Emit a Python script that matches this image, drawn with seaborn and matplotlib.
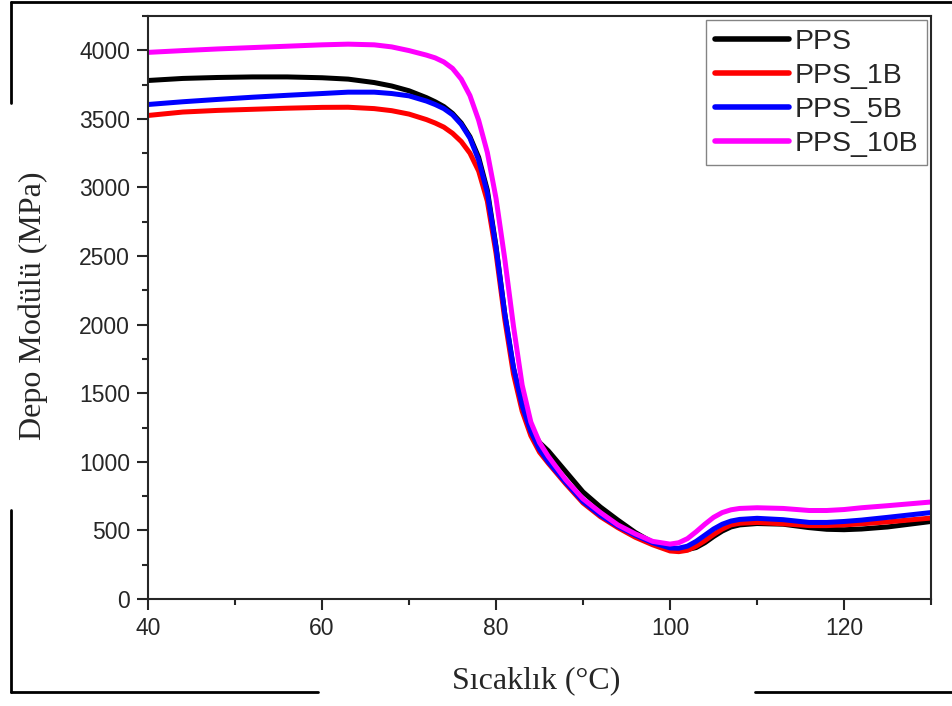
import seaborn as sns
sns.set_style('ticks')
import matplotlib.pyplot as plt
from matplotlib.ticker import MultipleLocator
from matplotlib.lines import Line2D
import pandas as pd

plt.rcParams['font.family'] = ['Liberation Sans', 'DejaVu Sans']

# temperature grid (°C)
temp = [40, 44, 48, 52, 56, 60, 63, 66, 68, 70, 72, 73, 74, 75, 76, 77, 78, 79, 80,
        81, 82, 83, 84, 85, 86, 88, 90, 92, 94, 96, 98, 100, 101, 102, 103, 104,
        105, 106, 107, 108, 110, 113, 116, 118, 120, 122, 125, 130]

pps = [3780, 3795, 3802, 3806, 3806, 3800, 3790, 3765, 3740, 3705, 3655, 3625, 3590,
       3540, 3470, 3370, 3220, 2980, 2570, 2080, 1680, 1420, 1250, 1140, 1080, 930,
       780, 670, 575, 485, 412, 370, 360, 360, 375, 410, 455, 495, 525, 540, 550,
       545, 520, 508, 505, 510, 525, 565]

pps_1b = [3525, 3550, 3562, 3570, 3578, 3584, 3585, 3575, 3560, 3535, 3495, 3470, 3440,
          3395, 3335, 3250, 3120, 2900, 2520, 2040, 1640, 1370, 1190, 1070, 990, 840,
          700, 600, 520, 450, 395, 350, 345, 355, 385, 425, 470, 510, 540, 552, 558,
          548, 535, 535, 540, 548, 562, 590]

pps_5b = [3605, 3625, 3642, 3658, 3672, 3685, 3695, 3695, 3685, 3668, 3630, 3605, 3575,
          3530, 3460, 3360, 3200, 2960, 2560, 2080, 1690, 1410, 1220, 1090, 1000, 850,
          710, 610, 530, 465, 410, 372, 370, 385, 420, 465, 510, 545, 568, 580, 588,
          578, 558, 558, 565, 575, 595, 630]

pps_10b = [3985, 3998, 4010, 4020, 4030, 4040, 4045, 4040, 4025, 3998, 3965, 3945, 3915,
           3868, 3790, 3670, 3490, 3255, 2920, 2480, 1990, 1560, 1290, 1140, 1040, 870,
           730, 630, 540, 475, 420, 400, 410, 440, 490, 545, 595, 630, 650, 660, 665,
           660, 645, 645, 652, 665, 680, 707]

names = ['PPS', 'PPS_1B', 'PPS_5B', 'PPS_10B']
colors = ['black', '#ff0000', '#0000ff', '#ff00ff']

frames = []
for name, vals in zip(names, [pps, pps_1b, pps_5b, pps_10b]):
    frames.append(pd.DataFrame({'T': temp, 'E': vals, 'sample': name}))
df = pd.concat(frames, ignore_index=True)

fig = plt.figure(figsize=(9.52, 7.06), dpi=100)
ax = fig.add_axes([0.1555, 0.1516, 0.8225, 0.8257])

sns.lineplot(data=df, x='T', y='E', hue='sample', hue_order=names,
             palette=dict(zip(names, colors)), lw=3.6, ax=ax, sort=False)

ax.set_xlim(40, 130)
ax.set_ylim(0, 4250)
ax.xaxis.set_major_locator(MultipleLocator(20))
ax.xaxis.set_minor_locator(MultipleLocator(10))
ax.yaxis.set_major_locator(MultipleLocator(500))
ax.yaxis.set_minor_locator(MultipleLocator(250))
ax.tick_params(which='major', length=8, width=1.5, labelsize=16.5, pad=5)
ax.tick_params(which='minor', length=4.5, width=1.5)
for s in ax.spines.values():
    s.set_linewidth(1.5)

ax.set_xlabel('Sıcaklık (°C)', family=['Liberation Serif', 'DejaVu Serif'], fontsize=23)
ax.set_ylabel('Depo Modülü (MPa)', family=['Liberation Serif', 'DejaVu Serif'], fontsize=23)
ax.xaxis.set_label_coords(0.4955, -0.115)
ax.yaxis.set_label_coords(-0.128, 0.503)

leg = ax.legend(loc='upper right', fontsize=20.5, frameon=True, fancybox=False,
                handlelength=2.6, handletextpad=0.2, labelspacing=0.28,
                borderpad=0.3, borderaxespad=0.15)
leg.get_frame().set_edgecolor('0.4')
leg.get_frame().set_linewidth(1.0)
for h in leg.get_lines():
    h.set_linewidth(4)
    h.set_solid_capstyle('round')

# page frame pieces from the scanned page
W, H = 952, 706
def seg(x0, y0, x1, y1):
    fig.add_artist(Line2D([x0 / W, x1 / W], [1 - y0 / H, 1 - y1 / H],
                          color='black', lw=2, transform=fig.transFigure))
seg(11, 2, 952, 2)
seg(11, 2, 11, 103)
seg(11, 510, 11, 692)
seg(11, 692, 318, 692)
seg(755, 692, 952, 692)

fig.savefig('out.png', dpi=100)
